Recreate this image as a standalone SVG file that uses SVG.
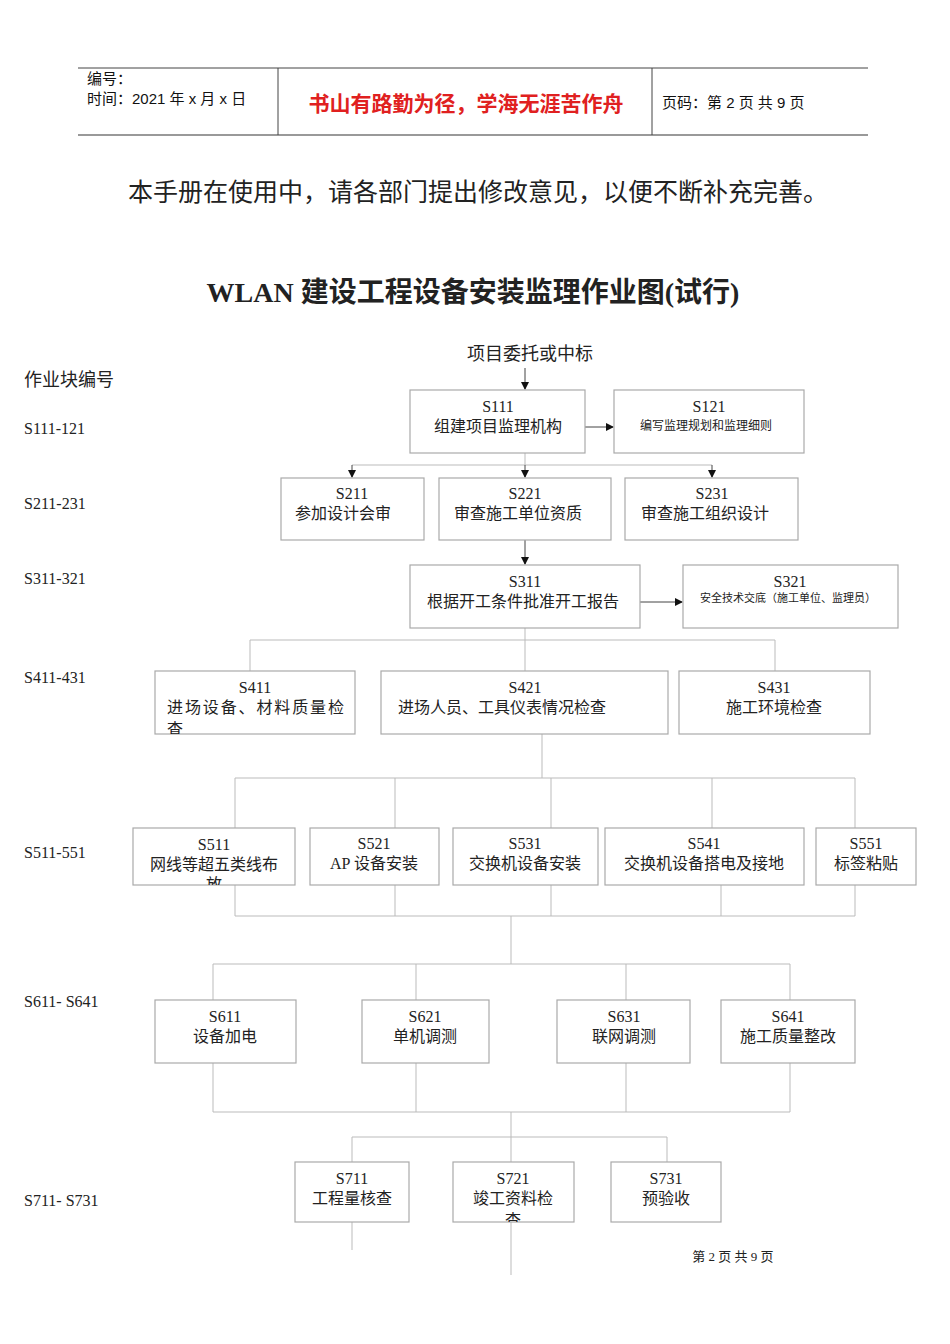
<svg xmlns="http://www.w3.org/2000/svg" width="950" height="1344" viewBox="0 0 950 1344">
<style>
.s{font-family:"Liberation Serif","Noto Sans CJK SC",serif;fill:#222}
.h{font-family:"Liberation Sans","Noto Sans CJK SC",sans-serif;fill:#111;font-size:15px}
.b{fill:#fff;stroke:#aaa;stroke-width:1.2}
.t{font-size:16px;text-anchor:middle}
.c{fill:none;stroke:#bbb;stroke-width:1}
.a{fill:none;stroke:#444;stroke-width:1}
</style>
<defs>
<marker id="ar" markerWidth="8" markerHeight="8" refX="7" refY="4" orient="auto" markerUnits="userSpaceOnUse"><path d="M0,0L8,4L0,8z" fill="#111"/></marker>
<clipPath id="k411"><rect x="155" y="671" width="200" height="63"/></clipPath>
<clipPath id="k511"><rect x="133" y="828" width="162" height="57"/></clipPath>
<clipPath id="k721"><rect x="453" y="1162" width="121" height="60"/></clipPath>
</defs>
<rect width="950" height="1344" fill="#fff"/>
<g id="header">
<line x1="78" y1="68" x2="868" y2="68" stroke="#444"/>
<line x1="78" y1="135" x2="868" y2="135" stroke="#999" stroke-width="2"/>
<line x1="278" y1="68" x2="278" y2="135" stroke="#444"/>
<line x1="652" y1="68" x2="652" y2="135" stroke="#444"/>
<text class="h" x="87" y="84">编号：</text>
<text class="h" x="87" y="104">时间：2021 年 x 月 x 日</text>
<text x="466" y="111" font-family="Noto Sans CJK SC,sans-serif" font-size="21" font-weight="bold" fill="#e02020" text-anchor="middle">书山有路勤为径，学海无涯苦作舟</text>
<text class="h" x="662" y="108">页码：第 2 页  共 9 页</text>
</g>
<text class="s" x="478" y="201" font-size="25" text-anchor="middle">本手册在使用中，请各部门提出修改意见，以便不断补充完善。</text>
<text class="s" x="473" y="302" font-size="28" font-weight="bold" text-anchor="middle" fill="#000">WLAN 建设工程设备安装监理作业图(试行)</text>
<text class="s" x="530" y="360" font-size="18" text-anchor="middle">项目委托或中标</text>
<text class="s" x="24" y="386" font-size="18">作业块编号</text>
<g class="s" font-size="16">
<text x="24" y="434">S111-121</text><text x="24" y="509">S211-231</text><text x="24" y="584">S311-321</text>
<text x="24" y="683">S411-431</text><text x="24" y="858">S511-551</text><text x="24" y="1007">S611- S641</text>
<text x="24" y="1206">S711- S731</text>
</g>
<g id="connectors">
<line class="a" x1="525" y1="368" x2="525" y2="389" marker-end="url(#ar)"/>
<line class="a" x1="585" y1="427" x2="613" y2="427" marker-end="url(#ar)"/>
<path class="c" d="M525,453V465M352,465H712"/>
<line class="a" x1="352" y1="465" x2="352" y2="477" marker-end="url(#ar)"/>
<line class="a" x1="525" y1="465" x2="525" y2="477" marker-end="url(#ar)"/>
<line class="a" x1="712" y1="465" x2="712" y2="477" marker-end="url(#ar)"/>
<line class="a" x1="525" y1="540" x2="525" y2="564" marker-end="url(#ar)"/>
<line class="a" x1="640" y1="602" x2="682" y2="602" marker-end="url(#ar)"/>
<path class="c" d="M525,628V640M250,640H775M250,640V671M525,640V671M775,640V671"/>
<path class="c" d="M542,734V778M235,778H855M235,778V828M395,778V828M551,778V828M712,778V828M855,778V828"/>
<path class="c" d="M235,885V916M395,885V916M551,885V916M721,885V916M855,885V916M235,916H855M511,916V964M213,964H790M213,964V1000M416,964V1000M626,964V1000M790,964V1000"/>
<path class="c" d="M213,1063V1112M416,1063V1112M626,1063V1112M790,1063V1112M213,1112H790M511,1112V1137M352,1137H667M352,1137V1162M511,1137V1162M667,1137V1162"/>
<path class="c" d="M352,1222V1250M511,1222V1275"/>
</g>
<g id="S111"><rect class="b" x="410" y="390" width="175" height="63"/><text class="s t" x="498" y="412">S111</text><text class="s t" x="498" y="432">组建项目监理机构</text></g>
<g id="S121"><rect class="b" x="614" y="390" width="190" height="63"/><text class="s t" x="709" y="412">S121</text><text class="s" x="706" y="430" font-size="12" text-anchor="middle">编写监理规划和监理细则</text></g>
<g id="S211"><rect class="b" x="281" y="478" width="143" height="62"/><text class="s t" x="352" y="499">S211</text><text class="s t" x="343" y="519">参加设计会审</text></g>
<g id="S221"><rect class="b" x="439" y="478" width="172" height="62"/><text class="s t" x="525" y="499">S221</text><text class="s t" x="518" y="519">审查施工单位资质</text></g>
<g id="S231"><rect class="b" x="625" y="478" width="173" height="62"/><text class="s t" x="712" y="499">S231</text><text class="s t" x="705" y="519">审查施工组织设计</text></g>
<g id="S311"><rect class="b" x="410" y="565" width="230" height="63"/><text class="s t" x="525" y="587">S311</text><text class="s t" x="523" y="607">根据开工条件批准开工报告</text></g>
<g id="S321"><rect class="b" x="683" y="565" width="215" height="63"/><text class="s t" x="790" y="587">S321</text><text class="s" x="788" y="602" font-size="11" text-anchor="middle">安全技术交底（施工单位、监理员）</text></g>
<g id="S411"><rect class="b" x="155" y="671" width="200" height="63"/><text class="s t" x="255" y="693">S411</text><g clip-path="url(#k411)"><text class="s" x="167" y="713" font-size="16" textLength="177">进场设备、材料质量检</text><text class="s" x="167" y="735" font-size="16">查</text></g></g>
<g id="S421"><rect class="b" x="381" y="671" width="287" height="63"/><text class="s t" x="525" y="693">S421</text><text class="s t" x="502" y="713">进场人员、工具仪表情况检查</text></g>
<g id="S431"><rect class="b" x="679" y="671" width="191" height="63"/><text class="s t" x="774" y="693">S431</text><text class="s t" x="774" y="713">施工环境检查</text></g>
<g id="S511"><rect class="b" x="133" y="828" width="162" height="57"/><text class="s t" x="214" y="850">S511</text><g clip-path="url(#k511)"><text class="s t" x="214" y="870">网线等超五类线布</text><text class="s t" x="214" y="890">放</text></g></g>
<g id="S521"><rect class="b" x="310" y="828" width="129" height="57"/><text class="s t" x="374" y="849">S521</text><text class="s t" x="374" y="869">AP 设备安装</text></g>
<g id="S531"><rect class="b" x="453" y="828" width="145" height="57"/><text class="s t" x="525" y="849">S531</text><text class="s t" x="525" y="869">交换机设备安装</text></g>
<g id="S541"><rect class="b" x="605" y="828" width="199" height="57"/><text class="s t" x="704" y="849">S541</text><text class="s t" x="704" y="869">交换机设备搭电及接地</text></g>
<g id="S551"><rect class="b" x="816" y="828" width="100" height="57"/><text class="s t" x="866" y="849">S551</text><text class="s t" x="866" y="869">标签粘贴</text></g>
<g id="S611"><rect class="b" x="155" y="1000" width="141" height="63"/><text class="s t" x="225" y="1022">S611</text><text class="s t" x="225" y="1042">设备加电</text></g>
<g id="S621"><rect class="b" x="362" y="1000" width="127" height="63"/><text class="s t" x="425" y="1022">S621</text><text class="s t" x="425" y="1042">单机调测</text></g>
<g id="S631"><rect class="b" x="557" y="1000" width="133" height="63"/><text class="s t" x="624" y="1022">S631</text><text class="s t" x="624" y="1042">联网调测</text></g>
<g id="S641"><rect class="b" x="721" y="1000" width="134" height="63"/><text class="s t" x="788" y="1022">S641</text><text class="s t" x="788" y="1042">施工质量整改</text></g>
<g id="S711"><rect class="b" x="295" y="1162" width="114" height="60"/><text class="s t" x="352" y="1184">S711</text><text class="s t" x="352" y="1204">工程量核查</text></g>
<g id="S721"><rect class="b" x="453" y="1162" width="121" height="60"/><text class="s t" x="513" y="1184">S721</text><g clip-path="url(#k721)"><text class="s t" x="513" y="1204">竣工资料检</text><text class="s t" x="513" y="1226">查</text></g></g>
<g id="S731"><rect class="b" x="611" y="1162" width="110" height="60"/><text class="s t" x="666" y="1184">S731</text><text class="s t" x="666" y="1204">预验收</text></g>
<text class="s" x="733" y="1261" font-size="13" text-anchor="middle">第 2 页 共 9 页</text>
</svg>
